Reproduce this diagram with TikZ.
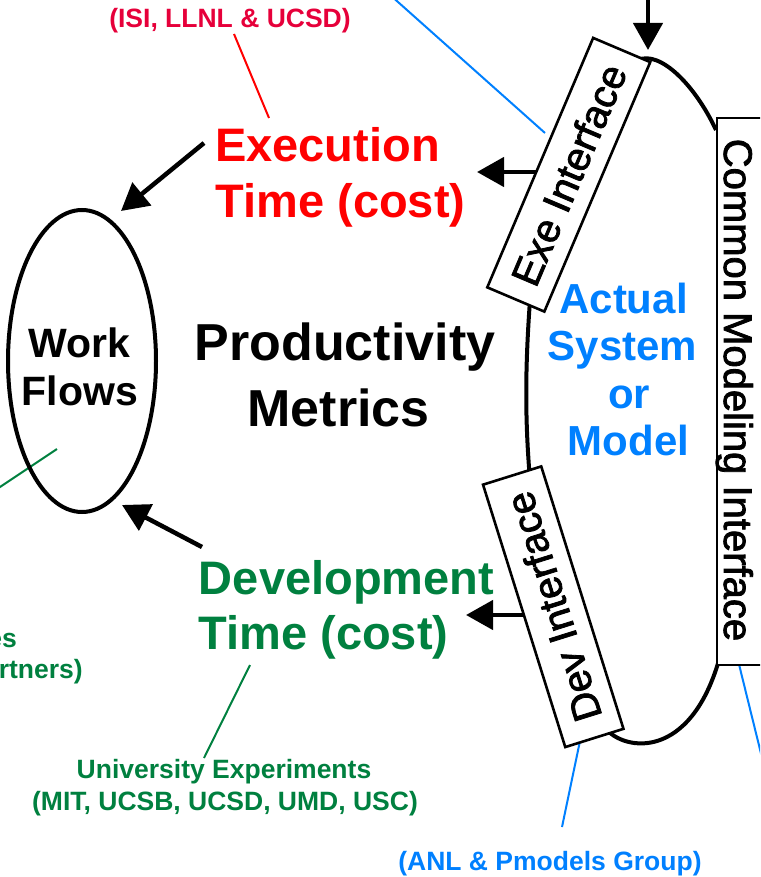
\documentclass[tikz,border=0pt]{standalone}
\usepackage{fontspec}
\setmainfont{Liberation Sans}
\newfontfamily\iffont[FakeBold=2]{Liberation Sans}
\usetikzlibrary{arrows.meta,shapes.geometric}
\definecolor{exered}{HTML}{FF0000}
\definecolor{smallred}{HTML}{E6003A}
\definecolor{devgreen}{HTML}{00803F}
\definecolor{sysblue}{HTML}{0080FF}
\newcommand{\myfs}[2]{\fontsize{#1}{#2}\selectfont}
\begin{document}
\begin{tikzpicture}[x=1pt,y=-1pt,
  bigarrow/.style={line width=4.5pt,-{Triangle[length=27pt,width=29pt]}},
  lbl/.style={inner sep=0pt,anchor=base},
  bigred/.style={lbl,text=exered,font={\myfs{47}{56}\bfseries}},
  biggreen/.style={lbl,text=devgreen,font={\myfs{47}{56}\bfseries}},
  bigblack/.style={lbl,text=black,font={\myfs{52}{64}\bfseries}},
  wftext/.style={lbl,text=black,font={\myfs{41}{48}\bfseries}},
  systext/.style={lbl,text=sysblue,font={\myfs{42}{48}\bfseries}},
  smalltext/.style={lbl,font={\myfs{26.5}{32}\bfseries}},
  iftext/.style={font={\iffont\myfs{40}{48}}},
  ifbox/.style={draw,line width=2.6pt,fill=white,inner sep=0pt,iftext},
  outline/.style={line width=4pt},
  leader/.style={line width=2pt}
]
\useasboundingbox (0,0) rectangle (760,877);
\clip (0,0) rectangle (760,877);

% leader lines
\coordinate (redA) at (234,34);
\coordinate (redB) at (269,118);
\draw[leader,exered] (redA) -- (redB);
\coordinate (blueTopA) at (389,-6);
\coordinate (blueTopB) at (545,133);
\draw[leader,sysblue] (blueTopA) -- (blueTopB);
\coordinate (greenWfA) at (57,449);
\coordinate (greenWfB) at (-12,495);
\draw[leader,devgreen] (greenWfA) -- (greenWfB);
\coordinate (greenDevA) at (250,665);
\coordinate (greenDevB) at (204,758);
\draw[leader,devgreen] (greenDevA) -- (greenDevB);
\coordinate (blueDevA) at (585,717);
\coordinate (blueDevB) at (562,827);
\draw[leader,sysblue] (blueDevA) -- (blueDevB);
\coordinate (blueCmiA) at (733,640);
\coordinate (blueCmiB) at (770,790);
\draw[leader,sysblue] (blueCmiA) -- (blueCmiB);

% system outline
\draw[outline] (638,60) .. controls (660,50) and (695,85) .. (716,130);
\draw[outline] (530,300) .. controls (525,370) and (525,420) .. (530,480);
\draw[outline] (605,728) .. controls (625,752) and (690,760) .. (719,660);

% arrows
\coordinate (topA) at (648,-6);
\coordinate (topB) at (648,50);
\draw[bigarrow] (topA) -- (topB);
\coordinate (exeArrA) at (545,172);
\coordinate (exeArrB) at (477,172);
\draw[bigarrow] (exeArrA) -- (exeArrB);
\coordinate (devArrA) at (530,615);
\coordinate (devArrB) at (466,615);
\draw[bigarrow] (devArrA) -- (devArrB);
\coordinate (execA) at (204,143);
\coordinate (wfTop) at (121,211);
\draw[bigarrow] (execA) -- (wfTop);
\coordinate (develA) at (202,547);
\coordinate (wfBot) at (122,505);
\draw[bigarrow] (develA) -- (wfBot);

% interface boxes
\node[ifbox,rotate=67,minimum width=271pt,minimum height=62pt] (exe) at (568.75,174.75) {Exe Interface};
\node[ifbox,rotate=107.4,minimum width=275pt,minimum height=61pt] (dev) at (553.25,606.75) {Dev Interface};
\draw[line width=2.6pt,fill=white] (717,118) rectangle (800,665);
\node[lbl,rotate=-90,iftext] (cmi) at (724,390) {Common Modeling Interface};

% work flows
\node[draw,ellipse,line width=4pt,minimum width=148pt,minimum height=302pt,inner sep=0pt] (wf) at (82,361) {};
\node[wftext] (wf1) at (79,357) {Work};
\node[wftext] (wf2) at (80,405) {Flows};

% central texts
\node[bigred] (ex1) at (327.5,162) {Execution};
\node[bigred] (ex2) at (340.5,218) {Time (cost)};
\node[bigblack] (pm1) at (345,360) {Productivity};
\node[bigblack] (pm2) at (338.5,426) {Metrics};
\node[biggreen] (dv1) at (346.5,594) {Development};
\node[biggreen] (dv2) at (323.5,649) {Time (cost)};

% system texts
\node[systext] (s1) at (623.5,313) {Actual};
\node[systext] (s2) at (622.5,360) {System};
\node[systext] (s3) at (629,408) {or};
\node[systext] (s4) at (628.5,455) {Model};

% small labels
\node[smalltext,text=smallred] (isi) at (230,28) {(ISI, LLNL \& UCSD)};
\node[smalltext,text=devgreen] (ue1) at (224,778) {University Experiments};
\node[smalltext,text=devgreen] (ue2) at (225,810) {(MIT, UCSB, UCSD, UMD, USC)};
\node[smalltext,text=sysblue] (anl) at (550,870) {(ANL \& Pmodels Group)};
\node[smalltext,text=devgreen,anchor=base east] (pl1) at (17,647) {es};
\node[smalltext,text=devgreen,anchor=base east] (pl2) at (83,678) {rtners)};
\end{tikzpicture}
\end{document}
